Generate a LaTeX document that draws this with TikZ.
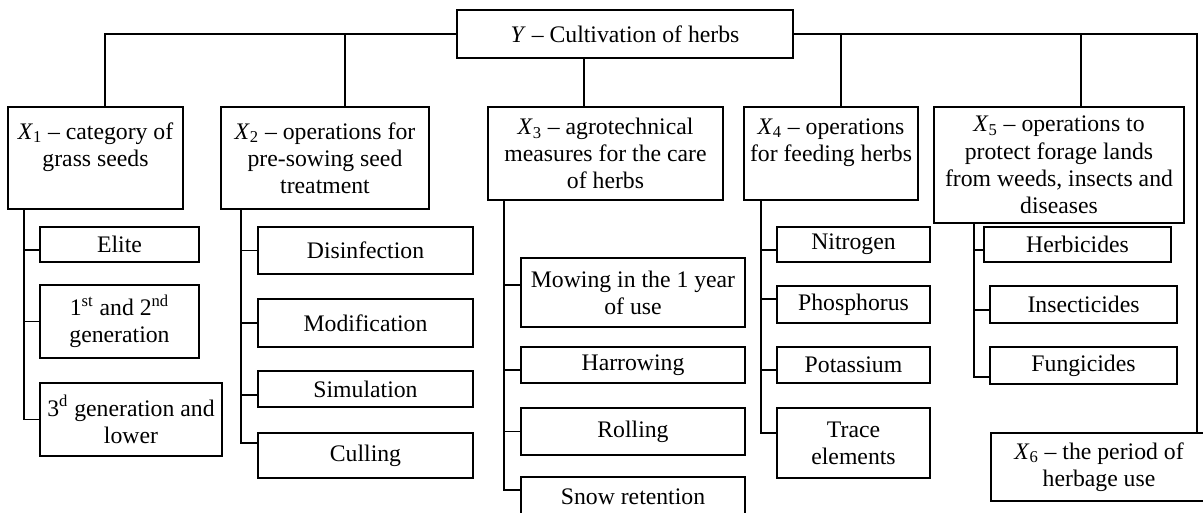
\documentclass[tikz,border=0pt]{standalone}
\usepackage{fontspec}
\setmainfont{Liberation Serif}
\begin{document}
\begin{tikzpicture}[x=0.02cm,y=-0.02cm,line width=0.9pt,
  box/.style={draw,align=center,inner sep=1pt,font=\fontsize{13.5}{15.5}\selectfont}]
\useasboundingbox (0,0) rectangle (1203,512);
% top level
\node[box,minimum width=6.72cm,minimum height=0.96cm] (y) at (625,34) {\textit{Y} – Cultivation of herbs};
\node[box,minimum width=3.5cm,minimum height=2.04cm] (x1) at (95.5,158) {\textit{X}\textsubscript{1} – category of\\grass seeds\\\mbox{}};
\node[box,minimum width=4.16cm,minimum height=2.04cm] (x2) at (325,158) {\textit{X}\textsubscript{2} – operations for\\pre-sowing seed\\treatment};
\node[box,minimum width=4.7cm,minimum height=1.86cm] (x3) at (605.5,153.5) {\textit{X}\textsubscript{3} – agrotechnical\\measures for the care\\of herbs};
\node[box,minimum width=3.48cm,minimum height=1.86cm] (x4) at (831,153.5) {\textit{X}\textsubscript{4} – operations\\for feeding herbs\\\mbox{}};
\node[box,minimum width=5.0cm,minimum height=2.32cm] (x5) at (1059,165) {\textit{X}\textsubscript{5} – operations to\\protect forage lands\\from weeds, insects and\\diseases};
\node[box,minimum width=4.32cm,minimum height=1.36cm] (x6) at (1099,467) {\textit{X}\textsubscript{6} – the period of\\herbage use};
% X1
\node[box,minimum width=3.18cm,minimum height=0.7cm] (elite) at (119.5,244.5) {Elite};
\node[box,minimum width=3.18cm,minimum height=1.46cm] (gen12) at (119.5,321.5) {1\textsuperscript{st} and 2\textsuperscript{nd}\\generation};
\node[box,minimum width=3.64cm,minimum height=1.46cm] (gen3) at (131,419.5) {3\textsuperscript{d} generation and\\lower};
% X2
\node[box,minimum width=4.3cm,minimum height=0.94cm] (disinf) at (365.5,250.5) {Disinfection};
\node[box,minimum width=4.3cm,minimum height=0.96cm] (modif) at (365.5,323) {Modification};
\node[box,minimum width=4.3cm,minimum height=0.72cm] (simul) at (365.5,389) {Simulation};
\node[box,minimum width=4.3cm,minimum height=0.9cm] (cull) at (365.5,455.5) {Culling};
% X3
\node[box,minimum width=4.48cm,minimum height=1.38cm] (mow) at (633,292.5) {Mowing in the 1 year\\of use};
\node[box,minimum width=4.48cm,minimum height=0.72cm] (harrow) at (633,365) {Harrowing};
\node[box,minimum width=4.48cm,minimum height=0.94cm] (roll) at (633,431.5) {Rolling};
\node[box,minimum width=4.48cm,minimum height=0.8cm] (snow) at (633,497) {Snow retention};
% X4
\node[box,minimum width=3.06cm,minimum height=0.7cm] (nitro) at (853.5,244.5) {Nitrogen};
\node[box,minimum width=3.06cm,minimum height=0.74cm] (phos) at (853.5,304.5) {Phosphorus};
\node[box,minimum width=3.06cm,minimum height=0.72cm] (potas) at (853.5,365) {Potassium};
\node[box,minimum width=3.06cm,minimum height=1.4cm] (trace) at (853.5,443) {Trace\\elements};
% X5
\node[box,minimum width=3.74cm,minimum height=0.7cm] (herb) at (1077.5,244.5) {Herbicides};
\node[box,minimum width=3.74cm,minimum height=0.74cm] (insect) at (1083.5,304.5) {Insecticides};
\node[box,minimum width=3.74cm,minimum height=0.74cm] (fungi) at (1083.5,365.5) {Fungicides};
% bus from Y
\draw (y.west) -| ([xshift=0.19cm]x1.north);
\draw ([xshift=0.4cm]x2.north) -- ([xshift=0.4cm]x2.north |- y.west);
\draw ([xshift=-0.82cm]y.south) -- ([xshift=-0.82cm]y.south |- x3.north);
\draw (y.east) -| ([xshift=1.96cm]x6.north);
\draw ([xshift=0.2cm]x4.north) -- ([xshift=0.2cm]x4.north |- y.east);
\draw ([xshift=0.44cm]x5.north) -- ([xshift=0.44cm]x5.north |- y.east);
% stems
\coordinate (s1) at ([xshift=0.34cm]x1.south west);
\coordinate (s2) at ([xshift=0.42cm]x2.south west);
\coordinate (s3) at ([xshift=0.34cm]x3.south west);
\coordinate (s4) at ([xshift=0.36cm]x4.south west);
\coordinate (s5) at ([xshift=0.82cm]x5.south west);
\draw (s1) |- ([yshift=-0.11cm]elite.west) (s1) |- (gen12.west) (s1) |- (gen3.west);
\draw (s2) |- (disinf.west) (s2) |- (modif.west) (s2) |- ([yshift=-0.12cm]simul.west) (s2) |- ([yshift=0.25cm]cull.west);
\draw (s3) |- ([yshift=0.15cm]mow.west) (s3) |- ([yshift=-0.1cm]harrow.west) (s3) |- (roll.west) (s3) |- ([yshift=0.14cm]snow.west);
\draw (s4) |- ([yshift=-0.11cm]nitro.west) (s4) |- ([yshift=0.11cm]phos.west) (s4) |- ([yshift=-0.1cm]potas.west) (s4) |- ([yshift=0.2cm]trace.west);
\draw (s5) |- ([yshift=-0.11cm]herb.west) (s5) |- ([yshift=-0.11cm]insect.west) (s5) |- ([yshift=-0.23cm]fungi.west);
\end{tikzpicture}
\end{document}
